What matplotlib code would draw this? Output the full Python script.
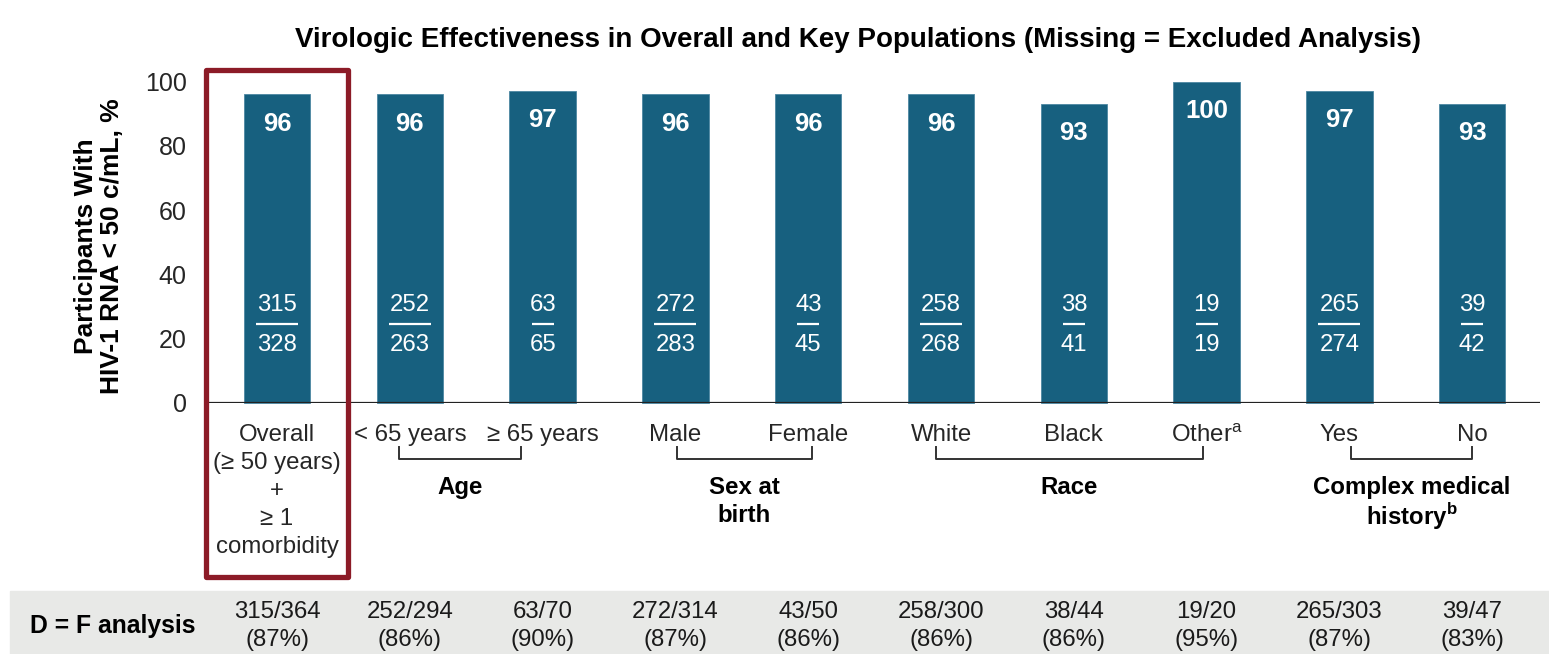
import matplotlib
matplotlib.use('Agg')
import matplotlib.pyplot as plt
import matplotlib.transforms as mtransforms
from matplotlib.patches import Rectangle

plt.rcParams['font.family'] = ['Liberation Sans', 'DejaVu Sans']
plt.rcParams['mathtext.fontset'] = 'custom'
plt.rcParams['mathtext.rm'] = 'Liberation Sans'
plt.rcParams['mathtext.bf'] = 'Liberation Sans:bold'

# data
categories = ['Overall\n(≥ 50 years)\n+\n≥ 1\ncomorbidity', '< 65 years', '≥ 65 years',
              'Male', 'Female', 'White', 'Black', 'Other$^{\\mathrm{a}}$', 'Yes', 'No']
pct = [96, 96, 97, 96, 96, 96, 93, 100, 97, 93]
num = [315, 252, 63, 272, 43, 258, 38, 19, 265, 39]
den = [328, 263, 65, 283, 45, 268, 41, 19, 274, 42]
df_num = [315, 252, 63, 272, 43, 258, 38, 19, 265, 39]
df_den = [364, 294, 70, 314, 50, 300, 44, 20, 303, 47]
df_pct = [87, 86, 90, 87, 86, 86, 86, 95, 87, 83]
groups = ['Age', 'Sex at\nbirth', 'Race', 'Complex medical\nhistory$^{\\mathbf{b}}$']
group_span = [(0.92, 1.84), (3.01, 4.03), (4.96, 6.97), (8.09, 9.0)]

W, H = 1549, 654
bar_color = '#17607f'
txt_color = '#262626'
red = '#8c1b27'

fig = plt.figure(figsize=(W / 100, H / 100), dpi=100)
ax = fig.add_axes([206 / W, 1 - 403 / H, (1540 - 206) / W, (403 - 81.5) / H])

x = list(range(len(pct)))
ax.bar(x, pct, width=0.5, color=bar_color, edgecolor='#4d87a2', linewidth=0.6,
       clip_on=False, zorder=2)
ax.set_xlim(-0.535, 9.51)
ax.set_ylim(0, 100)
ax.axhline(0, color='#222222', lw=1.6, zorder=3)
for s in ax.spines.values():
    s.set_visible(False)
ax.set_xticks([])
ax.set_yticks(range(0, 101, 20))
ax.tick_params(axis='y', length=0, pad=14, labelsize=18, labelcolor=txt_color)

# value labels and fractions in bars
px_per_x = (1540 - 206) / (9.51 + 0.535)
for i, v in enumerate(pct):
    ax.annotate(str(v), (i, v), xytext=(0, -21), textcoords='offset points',
                ha='center', va='center', color='white', fontsize=18.5,
                fontweight='bold', zorder=4)
    ax.text(i, 30.5, str(num[i]), ha='center', va='center', color='white',
            fontsize=17.2, zorder=4)
    ax.text(i, 18.0, str(den[i]), ha='center', va='center', color='white',
            fontsize=17.2, zorder=4)
    half = (20 * len(str(num[i])) - 18) / 2 / px_per_x
    ax.plot([i - half, i + half], [24.6, 24.6], color='white', lw=1.6,
            solid_capstyle='butt', zorder=4)

# blended: x in data, y in figure pixels from top
tr = mtransforms.blended_transform_factory(ax.transData, fig.transFigure)


def fy(py):
    return 1 - py / H


for i, c in enumerate(categories):
    ax.text(i, fy(424), c, transform=tr, ha='center', va='top', fontsize=17.3,
            color=txt_color, linespacing=1.36)

# group brackets
for (a, b), g in zip(group_span, groups):
    ax.plot([a, a, b, b], [fy(447), fy(459), fy(459), fy(447)], transform=tr,
            color='#333333', lw=1.4, clip_on=False)
    ls = 1.05 if '$' in g else 1.3
    ax.text((a + b) / 2, fy(476), g, transform=tr, ha='center', va='top',
            fontsize=17.3, fontweight='bold', color='black', linespacing=ls)

# highlight box around overall
ax.add_patch(Rectangle((-0.535, -54.1), 1.07, 157.7, fill=False, edgecolor=red,
                       lw=3.8, joinstyle='round', clip_on=False, zorder=5))

# D = F analysis band
fig.add_artist(Rectangle((10 / W, 0), 1 - 10 / W, 1 - 591 / H,
                         transform=fig.transFigure, color='#e8e9e7', zorder=0))
fig.text(30 / W, fy(626), 'D = F analysis', ha='left', va='center', fontsize=17.8,
         fontweight='bold')
for i in x:
    ax.text(i, fy(626), f'{df_num[i]}/{df_den[i]}\n({df_pct[i]}%)', transform=tr,
            ha='center', va='center', fontsize=17.3, color='#1a1a1a',
            linespacing=1.4)

fig.text(858 / W, fy(40), 'Virologic Effectiveness in Overall and Key Populations '
         '(Missing = Excluded Analysis)', ha='center', va='center', fontsize=20,
         fontweight='bold', color='black')

fig.text(99 / W, fy(246), 'Participants With\nHIV-1 RNA < 50 c/mL, %', rotation=90,
         ha='center', va='center', fontsize=19, fontweight='bold', linespacing=1.1)

fig.savefig('out.png', dpi=100)
